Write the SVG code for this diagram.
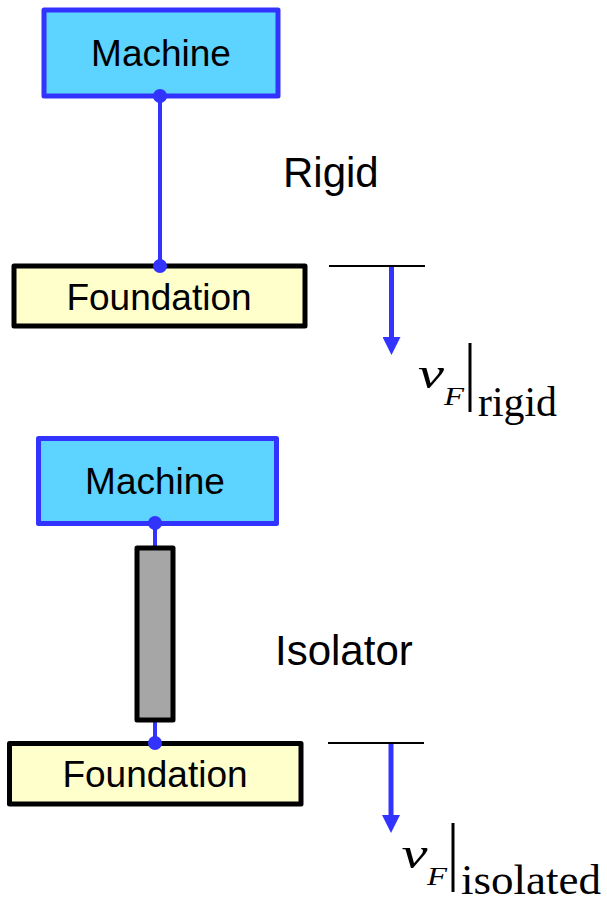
<svg xmlns="http://www.w3.org/2000/svg" width="607" height="903" viewBox="0 0 607 903">
  <style>
    .machine { fill: #5DD3FF; stroke: #3333FF; stroke-width: 5; stroke-linejoin: round; }
    .foundation { fill: #FFFFCC; stroke: #000000; stroke-width: 5; stroke-linejoin: round; }
    .isolator { fill: #A6A6A6; stroke: #000000; stroke-width: 5; stroke-linejoin: round; }
    .label { font-family: "Liberation Sans", Arial, sans-serif; font-size: 37px; fill: #000000; text-anchor: middle; }
    .side { font-family: "Liberation Sans", Arial, sans-serif; font-size: 42px; fill: #000000; }
    .link { stroke: #3333FF; stroke-width: 4; fill: none; }
    .dot { fill: #3333FF; }
    .ref { stroke: #000000; stroke-width: 2; }
    .vel { stroke: #3333FF; stroke-width: 5; fill: none; }
    .bar { stroke: #000000; stroke-width: 3; }
    .sym { font-family: "Liberation Serif", "Times New Roman", serif; font-style: italic; fill: #000000; }
    .sub { font-family: "Liberation Serif", "Times New Roman", serif; font-size: 42px; fill: #000000; }
  </style>
  <defs>
    <marker id="arrowhead" viewBox="0 0 18 18" markerUnits="userSpaceOnUse" markerWidth="18" markerHeight="18" refX="3" refY="9" orient="auto">
      <path d="M0,0 L18,9 L0,18 Z" fill="#3333FF"/>
    </marker>
  </defs>

  <!-- connectors: machine-to-foundation links and velocity arrows -->
  <g id="connectors">
    <line class="link" x1="160" y1="96" x2="160" y2="266"/>
    <line class="link" x1="155" y1="523" x2="155" y2="548"/>
    <line class="link" x1="155" y1="720" x2="155" y2="743"/>
    <line class="vel" x1="391.5" y1="266" x2="391.5" y2="340" marker-end="url(#arrowhead)"/>
    <line class="vel" x1="391" y1="743" x2="391" y2="818" marker-end="url(#arrowhead)"/>
  </g>

  <!-- rigid mounting -->
  <g id="machine-rigid">
    <rect class="machine" x="44" y="10" width="234" height="86"/>
    <text class="label" x="161" y="66">Machine</text>
  </g>
  <g id="foundation-rigid">
    <rect class="foundation" x="14" y="266" width="291" height="60"/>
    <text class="label" x="159" y="310">Foundation</text>
  </g>
  <g id="joints-rigid">
    <circle class="dot" cx="160" cy="96" r="7"/>
    <circle class="dot" cx="160" cy="266" r="7"/>
  </g>
  <g id="label-rigid">
    <text class="side" x="283" y="187">Rigid</text>
  </g>
  <g id="velocity-rigid">
    <line class="ref" x1="329" y1="266" x2="425" y2="266"/>
    <text class="sym" x="418" y="388" font-size="44" textLength="26" lengthAdjust="spacingAndGlyphs">v</text>
    <text class="sym" x="444" y="405" font-size="26" textLength="20" lengthAdjust="spacingAndGlyphs">F</text>
    <line class="bar" x1="470" y1="343" x2="470" y2="412"/>
    <text class="sub" x="478" y="416" textLength="79" lengthAdjust="spacingAndGlyphs">rigid</text>
  </g>

  <!-- isolated mounting -->
  <g id="machine-isolated">
    <rect class="machine" x="38.5" y="438.5" width="238" height="85"/>
    <text class="label" x="155" y="494">Machine</text>
  </g>
  <g id="isolator">
    <rect class="isolator" x="137" y="548" width="36" height="172"/>
  </g>
  <g id="foundation-isolated">
    <rect class="foundation" x="9.5" y="743.5" width="291.5" height="60.5"/>
    <text class="label" x="155" y="787">Foundation</text>
  </g>
  <g id="joints-isolated">
    <circle class="dot" cx="155" cy="523" r="7"/>
    <circle class="dot" cx="155" cy="743" r="7"/>
  </g>
  <g id="label-isolator">
    <text class="side" x="275" y="665">Isolator</text>
  </g>
  <g id="velocity-isolated">
    <line class="ref" x1="328" y1="743" x2="424" y2="743"/>
    <text class="sym" x="401.5" y="868" font-size="44" textLength="26" lengthAdjust="spacingAndGlyphs">v</text>
    <text class="sym" x="427" y="885" font-size="26" textLength="20" lengthAdjust="spacingAndGlyphs">F</text>
    <line class="bar" x1="453" y1="823" x2="453" y2="892"/>
    <text class="sub" x="461" y="894" textLength="140" lengthAdjust="spacingAndGlyphs">isolated</text>
  </g>
</svg>
